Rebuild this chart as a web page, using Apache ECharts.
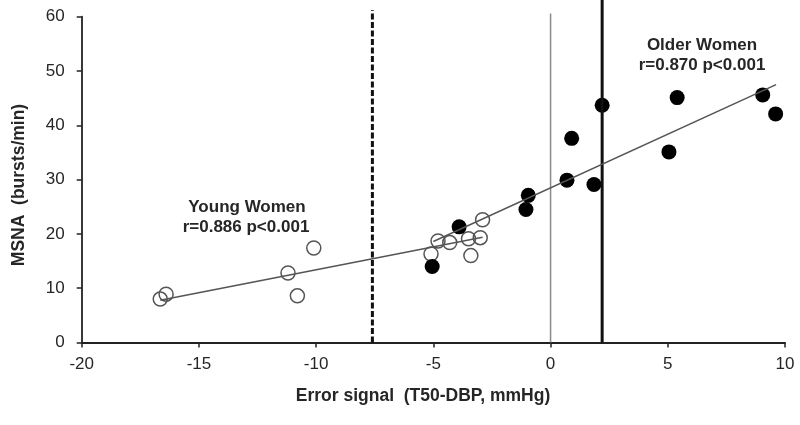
<!DOCTYPE html>
<html>
<head>
<meta charset="utf-8">
<script src="https://cdn.jsdelivr.net/npm/echarts@6/dist/echarts.min.js"></script>
<style>html,body{margin:0;padding:0;background:#fff}#c{width:800px;height:425px}</style>
</head>
<body>
<div id="c"></div>
<script>
// Young women (open circles): [error signal, MSNA]
const youngData = [
  [-16.65, 8.0], [-16.4, 8.9], [-11.2, 12.8], [-10.8, 8.6], [-10.1, 17.4],
  [-5.1, 16.3], [-4.8, 18.7], [-4.3, 18.4], [-3.5, 19.1], [-3.0, 19.3],
  [-2.9, 22.6], [-3.4, 16.0]
];
// Older women (filled circles)
const olderData = [
  [-5.05, 14.0], [-3.9, 21.3], [-0.95, 27.1], [-1.05, 24.5], [0.7, 29.9],
  [0.9, 37.6], [1.85, 29.1], [2.2, 43.7], [5.05, 35.1], [5.4, 45.1],
  [9.05, 45.6], [9.6, 42.1]
];
// Regression line endpoints
const youngFit = [[-16.65, 7.8], [-2.9, 19.4]];
const olderFit = [[-5.0, 18.6], [9.62, 47.5]];
// Vertical reference lines
const dashedLine = [[-7.6, 0], [-7.6, 61.2]];
const zeroLine = [[0, 0], [0, 60.6]];
const solidLine = [[2.2, 0], [2.2, 63.3]];

const xTicks = { min: -20, max: 10, interval: 5 };
const yTicks = { min: 0, max: 60, interval: 10 };

const xTitle = 'Error signal  (T50-DBP, mmHg)';
const yTitle = 'MSNA  (bursts/min)';
const youngLabel = ['Young Women', 'r=0.886 p<0.001'];
const olderLabel = ['Older Women', 'r=0.870 p<0.001'];

const font = "'Liberation Sans', Arial, sans-serif";
const txt = '#262626';
const chart = echarts.init(document.getElementById('c'), null, { renderer: 'canvas' });
chart.setOption({
  animation: false,
  backgroundColor: '#fff',
  grid: { left: 81.7, right: 15, top: 16.7, bottom: 82.5 },
  xAxis: {
    type: 'value', min: xTicks.min, max: xTicks.max, interval: xTicks.interval,
    axisLine: { onZero: false, lineStyle: { color: '#222', width: 1.8 } },
    axisTick: { show: true, length: 5, lineStyle: { color: '#222', width: 1.5 } },
    axisLabel: { fontFamily: font, fontSize: 17, color: txt, margin: 13 },
    splitLine: { show: false }
  },
  yAxis: {
    type: 'value', min: yTicks.min, max: yTicks.max, interval: yTicks.interval,
    axisLine: { show: true, onZero: false, lineStyle: { color: '#222', width: 1.8 } },
    axisTick: { show: true, length: 5, lineStyle: { color: '#222', width: 1.5 } },
    axisLabel: { fontFamily: font, fontSize: 17, color: txt, margin: 17 },
    splitLine: { show: false }
  },
  series: [
    { type: 'line', data: zeroLine, symbol: 'none', clip: false,
      lineStyle: { color: '#8a8a8a', width: 1.5 } },
    { type: 'line', data: dashedLine, symbol: 'none', clip: false,
      lineStyle: { color: '#111', width: 3, type: [6, 2.5] } },
    { type: 'line', data: solidLine, symbol: 'none', clip: false,
      lineStyle: { color: '#111', width: 3 } },
    { type: 'line', data: youngFit, symbol: 'none',
      lineStyle: { color: '#555', width: 1.5 } },
    { type: 'line', data: olderFit, symbol: 'none',
      lineStyle: { color: '#555', width: 1.5 } },
    { type: 'scatter', data: youngData, symbol: 'circle', symbolSize: 14,
      itemStyle: { color: 'rgba(255,255,255,0)', borderColor: '#555', borderWidth: 1.5, opacity: 1 } },
    { type: 'scatter', data: olderData, symbol: 'circle', symbolSize: 15,
      itemStyle: { color: '#000', opacity: 1 } }
  ],
  graphic: [
    { type: 'text', x: 423, y: 396, style: { text: xTitle, font: 'bold 17.5px ' + font, fill: txt, textAlign: 'center', textVerticalAlign: 'middle' } },
    { type: 'text', x: 19, y: 185, rotation: Math.PI / 2, style: { text: yTitle, font: 'bold 17.5px ' + font, fill: txt, textAlign: 'center', textVerticalAlign: 'middle' } },
    { type: 'text', x: 247, y: 207, style: { text: youngLabel[0], font: 'bold 17px ' + font, fill: txt, textAlign: 'center', textVerticalAlign: 'middle' } },
    { type: 'text', x: 246, y: 227, style: { text: youngLabel[1], font: 'bold 17px ' + font, fill: txt, textAlign: 'center', textVerticalAlign: 'middle' } },
    { type: 'text', x: 702, y: 45, style: { text: olderLabel[0], font: 'bold 17px ' + font, fill: txt, textAlign: 'center', textVerticalAlign: 'middle' } },
    { type: 'text', x: 702, y: 65, style: { text: olderLabel[1], font: 'bold 17px ' + font, fill: txt, textAlign: 'center', textVerticalAlign: 'middle' } }
  ]
});
</script>
</body>
</html>
